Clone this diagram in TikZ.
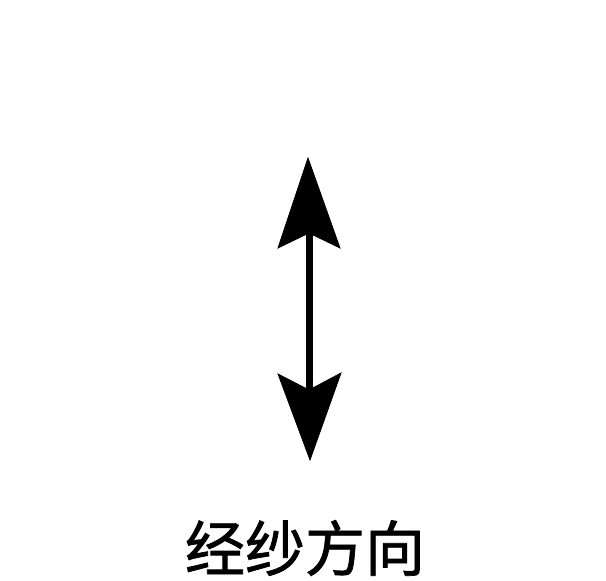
\documentclass[tikz,border=0pt]{standalone}
\usepackage{fontspec}
\newfontfamily\cjk[FakeBold=1.2]{Noto Sans CJK SC}
\begin{document}
\begin{tikzpicture}[x=1pt,y=-1pt,
  headfill/.style={fill=black,draw=black,line width=0.8pt,line join=miter},
  shaft/.style={draw=black,line width=7pt},
  label/.style={font=\cjk\fontsize{60}{60}\selectfont,inner sep=0pt}]
\useasboundingbox (0,0) rectangle (606,581);
\coordinate (topnotch) at (309,233);
\coordinate (botnotch) at (309,390);
\draw[shaft] (topnotch) -- (botnotch);
\fill[headfill] (308,158) -- (340,248) -- (topnotch) -- (278,248) -- cycle;
\fill[headfill] (310,460) -- (341,373) -- (botnotch) -- (278,374) -- cycle;
\node[label] (lbl) at (305,548) {经纱方向};
\end{tikzpicture}
\end{document}
